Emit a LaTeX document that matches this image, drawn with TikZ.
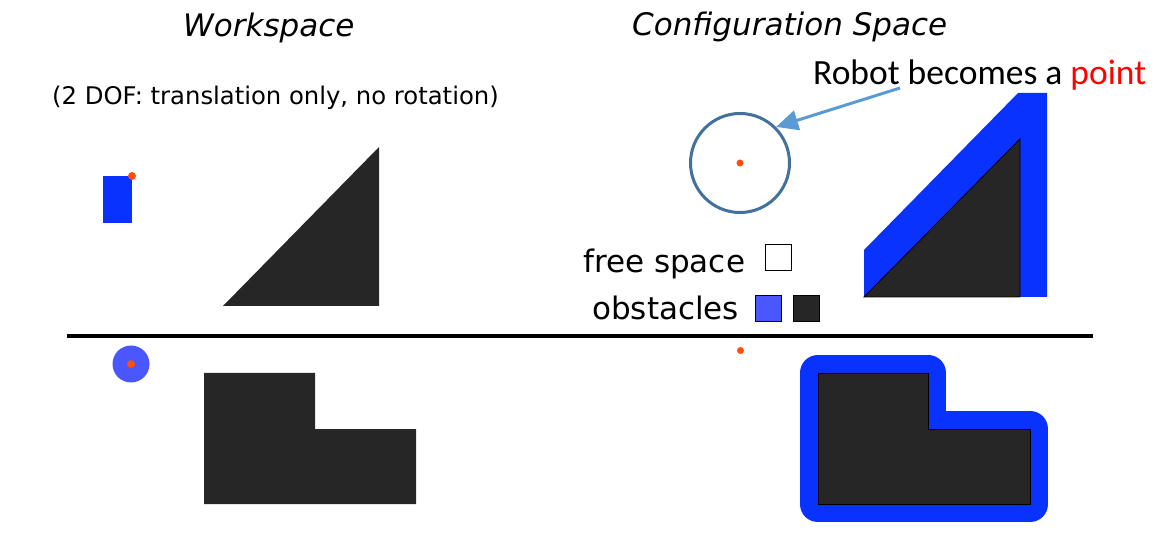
\documentclass[tikz,border=0pt]{standalone}
\usepackage{fontspec}
\usepackage{xcolor}
\usepackage{tikz}
\usetikzlibrary{arrows.meta,positioning,calc,shapes.geometric}
\setmainfont{DejaVu Sans}
\newfontfamily\calibrifont{Carlito}
\definecolor{ObstDark}{HTML}{262626}
\definecolor{CObstBlue}{HTML}{0A32FF}
\definecolor{DiscBlue}{HTML}{4A57FF}
\definecolor{RefOrange}{HTML}{FF4E0E}
\definecolor{RingBlue}{HTML}{41719C}
\definecolor{PtrBlue}{HTML}{5B9BD5}

\begin{document}
\begin{tikzpicture}[
			x=1pt,y=-1pt,
			title/.style={anchor=base west,inner sep=0pt,font=\fontsize{31}{36}\selectfont\itshape},
			lbl/.style={anchor=base west,inner sep=0pt,font=\fontsize{31}{36}\selectfont},
			obst/.style={fill=ObstDark,draw=black,line width=0.8pt},
			refpt/.style={circle,fill=RefOrange,inner sep=0pt,minimum size=8pt},
			keybox/.style={draw=black,line width=1.8pt,minimum size=26pt,inner sep=0pt},
			arr/.style={-{Triangle[length=22pt,width=20pt]},line width=3pt,PtrBlue}
		]
		\useasboundingbox (0,0) rectangle (1167,534);
		% headings
		\node[title] (ws) at (183,37) {Workspace};
		\node[lbl,font=\fontsize{24.3}{28}\selectfont] (dof) at (52,105) {(2 DOF: translation only, no rotation)};
		\node[title] (cs) at (632,36) {Configuration Space};
		\node[lbl,font=\calibrifont\fontsize{35.5}{40}\selectfont] (pt) at (813,85) {Robot becomes a \textcolor{red}{point}};
		% legend
		\node[lbl] (free) at (583,273) {free space};
		\node[lbl] (obs) at (592,320) {obstacles};
		\node[keybox,fill=white] (kfree) at (778.5,257.5) {};
		\node[keybox,fill=DiscBlue] (kblue) at (768.5,308.5) {};
		\node[keybox,fill=ObstDark] (kdark) at (806.5,308.5) {};
		% workspace, top
		\fill[CObstBlue] (103,176) rectangle (132,223);
		\node[refpt] (rref) at (132,176) {};
		\fill[ObstDark] (223,306) -- (379,147) -- (379,306) -- cycle;
		% divider
		\coordinate (divl) at (67,336);
		\coordinate (divr) at (1093,336);
		\draw[line width=4pt] (divl) -- (divr);
		% workspace, bottom
		\node[circle,fill=DiscBlue,inner sep=0pt,minimum size=37pt] (disc) at (131,364) {};
		\node[refpt] (dref) at (disc) {};
		\fill[ObstDark] (204,373) -- (315,373) -- (315,429) -- (416,429) -- (416,504) -- (204,504) -- cycle;
		% configuration space, top
		\node[circle,draw=RingBlue,line width=3pt,inner sep=0pt,minimum size=99pt] (ring) at (740,163) {};
		\node[refpt,minimum size=7pt] (cpt) at (ring) {};
		\coordinate (ptail) at (900,88);
		\draw[arr] (ptail) -- (ring.45);
		\fill[CObstBlue] (864,250) -- (1018,93) -- (1047,93) -- (1047,297) -- (864,297) -- cycle;
		\filldraw[obst] (864,297) -- (1020,139) -- (1020,297) -- cycle;
		% configuration space, bottom
		\node[refpt,minimum size=7pt] (cref) at (740.5,350.5) {};
		\filldraw[CObstBlue,line width=36.6pt,line join=round] (818,373) -- (928,373) -- (928,429) -- (1030,429) -- (1030,504) -- (818,504) -- cycle;
		\filldraw[obst] (818,373) -- (928,373) -- (928,429) -- (1030,429) -- (1030,504) -- (818,504) -- cycle;
	\end{tikzpicture}
\end{document}
